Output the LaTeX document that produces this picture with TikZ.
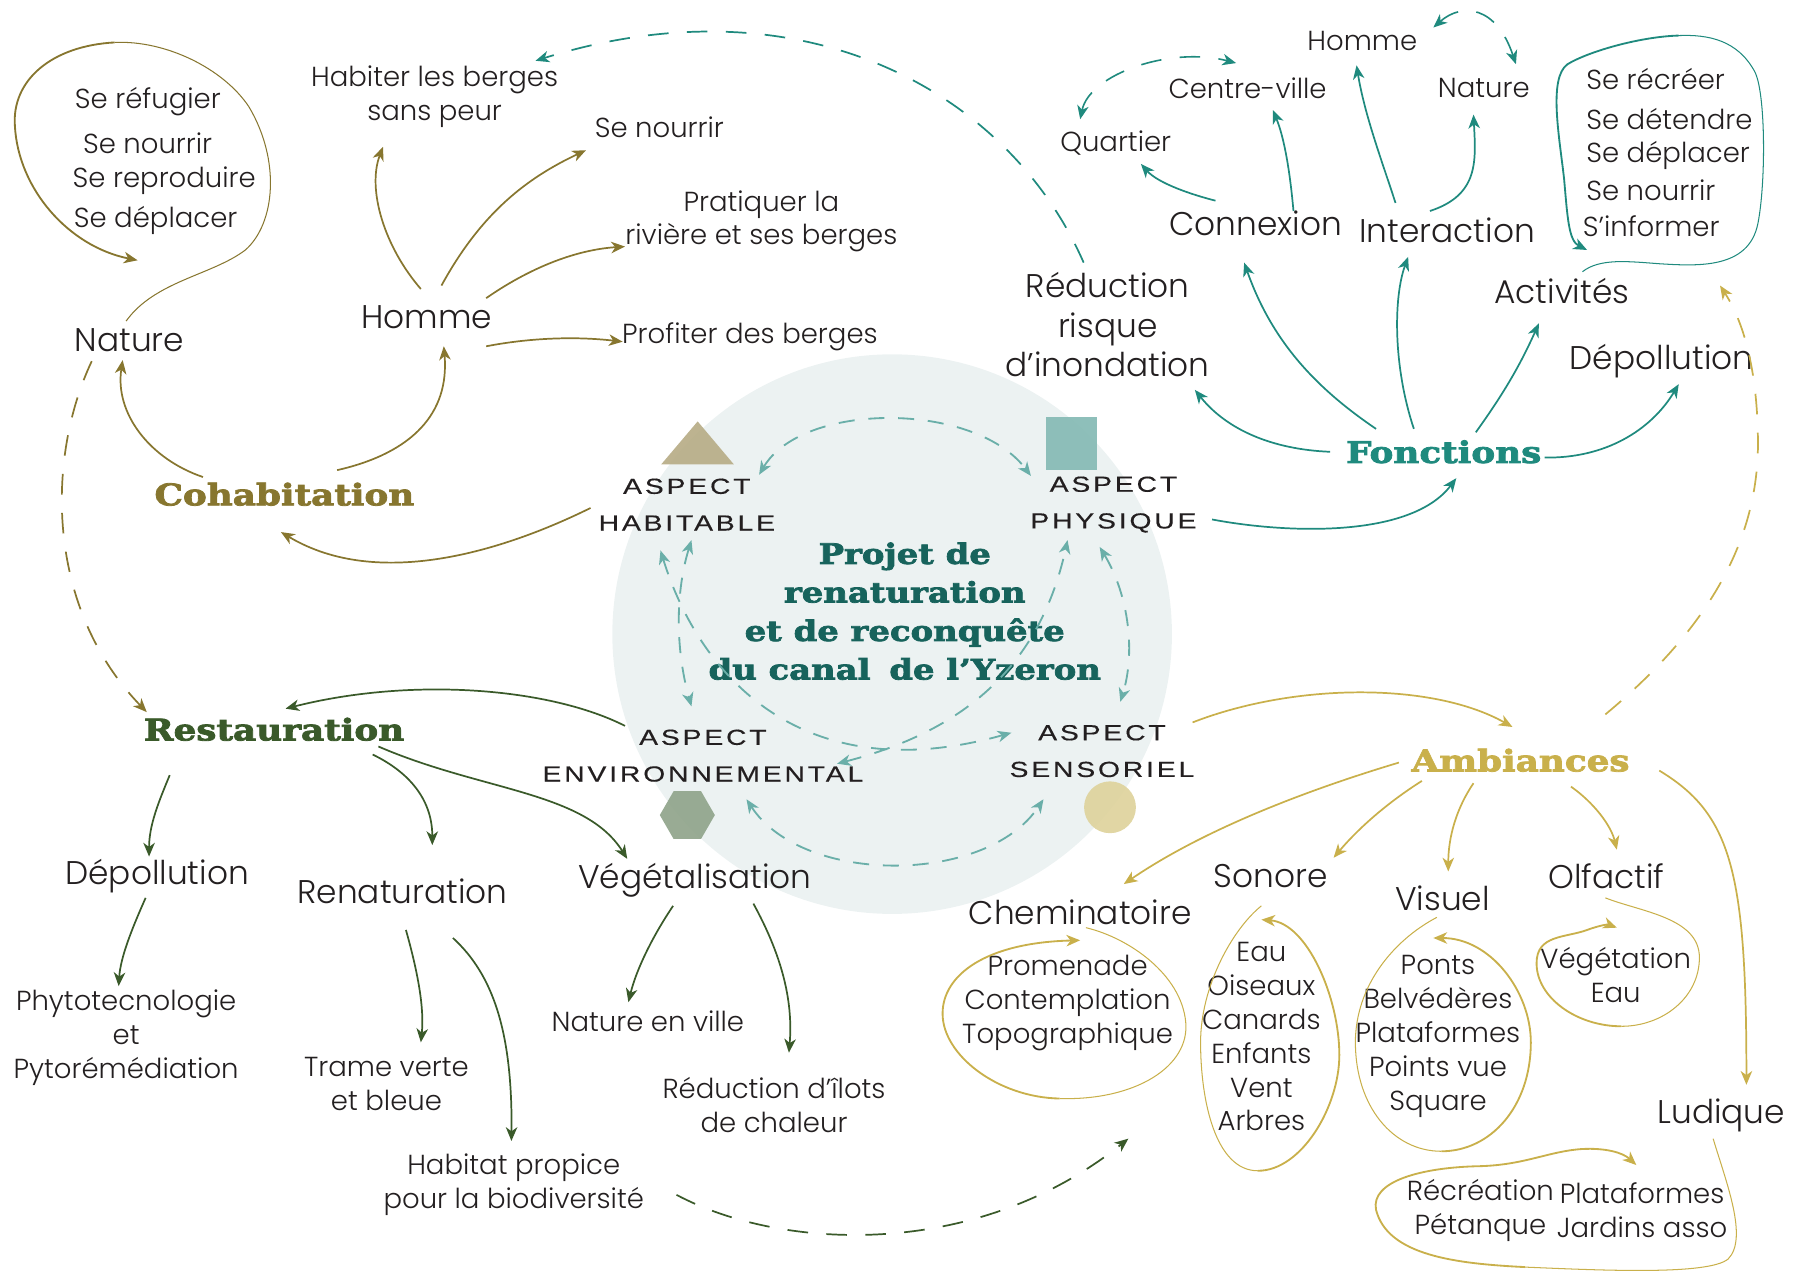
\documentclass[tikz,border=0pt]{standalone}
\usepackage{fontspec}
\usetikzlibrary{arrows.meta,calc}
\IfFontExistsTF{Poppins Light}{\setmainfont{Poppins Light}}{\setmainfont{Poppins}}
\newfontfamily\slabfont{DejaVu Serif}[FakeStretch=1.2, BoldFeatures={FakeBold=2.6}]
\newfontfamily\widefont{Liberation Sans}[FakeStretch=1.3,LetterSpace=13,FakeBold=0.4]
\definecolor{olv}{HTML}{87762F}
\definecolor{tl}{HTML}{1F8A7E}
\definecolor{dtl}{HTML}{17635C}
\definecolor{grn}{HTML}{3A5A2A}
\definecolor{gld}{HTML}{C9B04B}
\definecolor{ltl}{HTML}{6AAFA9}
\definecolor{txt}{HTML}{231F20}
\definecolor{circ}{HTML}{ECF2F2}
\definecolor{tri}{HTML}{B9AF8A}
\definecolor{sqr}{HTML}{88BCB6}
\definecolor{hexc}{HTML}{93A78E}
\definecolor{dotc}{HTML}{DFD49F}
\begin{document}
\begin{tikzpicture}[x=0.5pt,y=-0.5pt,
  sm/.style={font=\fontsize{12}{14.8}\selectfont, text=txt, inner sep=1pt, align=center},
  bg/.style={font=\fontsize{14.3}{17.25}\selectfont, text=txt, inner sep=1pt, align=center},
  hd/.style={font=\slabfont\bfseries\fontsize{13}{16}\selectfont, inner sep=1pt},
  asp/.style={font=\widefont\fontsize{9.5}{16}\selectfont, text=txt, inner sep=1pt, align=center},
  arr/.style={-{Stealth[length=6pt,width=5pt,inset=1.8pt]}, line width=0.75pt},
  darr/.style={{Stealth[length=6pt,width=5pt,inset=1.8pt]}-{Stealth[length=6pt,width=5pt,inset=1.8pt]}, line width=0.7pt},
  thin/.style={line width=0.45pt},
  bigdash/.style={dash pattern=on 9pt off 8pt},
  indash/.style={ltl, line width=0.8pt, dash pattern=on 7pt off 6pt},
]
\useasboundingbox (0,0) rectangle (1568,1108);

% ---------- centre ----------
\fill[circ] (778,553) circle [radius=244];
\fill[tri, opacity=0.95] (576.6,405) -- (640,405) -- (608.4,367.5) -- cycle;
\fill[sqr, opacity=0.95] (912,364) rectangle (957,410);
\fill[hexc, opacity=0.95] (599.4,710.8) ++(0:24) -- ++(120:24) -- ++(180:24) -- ++(240:24) -- ++(300:24) -- ++(0:24) -- cycle;
\fill[dotc, opacity=0.95] (968,704) circle [radius=22.6];

\node[font=\slabfont\bfseries\fontsize{12.3}{16.8}\selectfont, text=dtl, align=center, inner sep=1pt] (titre) at (789,533)
  {Projet de\\renaturation\\et de reconquête\\du canal\hspace{0.25em} de l’Yzeron};
\node[asp] (habit) at (599,440) {ASPECT\\HABITABLE};
\node[asp] (phys) at (971,440) {ASPECT\\PHYSIQUE};
\node[asp] (env) at (613,659) {ASPECT\\ENVIRONNEMENTAL};
\node[asp] (sens) at (961,655) {ASPECT\\SENSORIEL};

\draw[indash, darr, line width=0.8pt] ($(habit)+(63,-26)$) .. controls (700,350) and (850,350) .. ($(phys)+(-72,-25)$);
\draw[indash, darr, line width=0.8pt] ($(habit)+(4,31)$) .. controls (588,520) and (590,570) .. ($(env)+(-10,-43)$);
\draw[indash, darr, line width=0.8pt] ($(habit)+(-23,40)$) .. controls (610,590) and (700,690) .. ($(sens)+(-79,-16)$);
\draw[indash, darr, line width=0.8pt] ($(env)+(117,7)$) .. controls (830,640) and (905,590) .. ($(phys)+(-40,31)$);
\draw[indash, darr, line width=0.8pt] ($(phys)+(-12,37)$) .. controls (985,520) and (990,570) .. ($(sens)+(16,-43)$);
\draw[indash, darr, line width=0.8pt] ($(env)+(38,38)$) .. controls (700,772) and (860,772) .. ($(sens)+(-51,42)$);

% ---------- Cohabitation (olive) ----------
\node[hd, text=olv] (cohab) at (248,431) {Cohabitation};
\node[bg] (nature) at (113,297) {Nature};
\node[bg] (homme) at (372,277) {Homme};
\node[sm, anchor=west] (nat1) at (63,89) {Se réfugier};
\node[sm, anchor=west] (nat2) at (70,125) {Se nourrir};
\node[sm, anchor=west] (nat3) at (61,158) {Se reproduire};
\node[sm, anchor=west] (nat4) at (62,192) {Se déplacer};
\node[sm] (habiter) at (379,84) {Habiter les berges\\sans peur};
\node[sm] (senourrir) at (575,111) {Se nourrir};
\node[sm] (pratiquer) at (664,193) {Pratiquer la\\rivière et ses berges};
\node[sm] (profiter) at (654,294) {Profiter des berges};

\draw[olv, thin] ($(nature)+(-3,-17)$) .. controls (135,245) and (185,240) .. (214,218)
   .. controls (240,195) and (245,140) .. (217,93) .. controls (195,60) and (145,35) .. (100,37);
\draw[olv, arr, line width=0.8pt] (100,37) .. controls (45,40) and (10,70) .. (13,110) .. controls (16,165) and (60,215) .. ($(nat4.west)+(58,35)$);
\draw[olv, arr] ($(cohab)+(-71,-15)$) .. controls (130,400) and (100,360) .. ($(nature)+(-6,17)$);
\draw[olv, arr] ($(cohab)+(46,-21)$) .. controls (360,395) and (392,360) .. ($(homme)+(15,25)$);
\draw[olv, arr] ($(homme)+(-5,-25)$) .. controls (335,215) and (320,165) .. ($(habiter)+(-45,44)$);
\draw[olv, arr] ($(homme)+(13,-28)$) .. controls (420,185) and (460,155) .. ($(senourrir)+(-64,20)$);
\draw[olv, arr] ($(homme)+(52,-17)$) .. controls (460,235) and (500,218) .. ($(pratiquer)+(-119,22)$);
\draw[olv, arr] ($(homme)+(52,25)$) .. controls (460,295) and (500,293) .. ($(profiter)+(-111,4)$);
\draw[olv, arr] ($(habit)+(-84,3)$) .. controls (440,480) and (330,515) .. ($(cohab)+(-3,33)$);

% ---------- Fonctions (teal) ----------
\node[hd, text=tl] (fonctions) at (1259,394) {Fonctions};
\node[sm] (quartier) at (973,125) {Quartier};
\node[sm] (centre) at (1088,77) {Centre-ville};
\node[sm] (hommeT) at (1188,36) {Homme};
\node[sm] (natureT) at (1294,77) {Nature};
\node[bg] (connexion) at (1095,195) {Connexion};
\node[bg] (interaction) at (1262,201) {Interaction};
\node[bg] (reduction) at (966,283) {Réduction\\risque\\d’inondation};
\node[bg] (activites) at (1362,254) {Activités};
\node[bg] (depolT) at (1449,315) {Dépollution};
\node[sm, anchor=west] (act1) at (1381,69) {Se récréer};
\node[sm, anchor=west] (act2) at (1381,104) {Se détendre};
\node[sm, anchor=west] (act3) at (1381,136) {Se déplacer};
\node[sm, anchor=west] (act4) at (1381,166) {Se nourrir};
\node[sm, anchor=west] (act5) at (1378,197) {S’informer};

\draw[tl, arr, bigdash] ($(reduction)+(-21,-54)$) .. controls (880,80) and (700,-20) .. ($(habiter)+(88,-31)$);
\draw[tl, darr, bigdash] ($(quartier)+(-31,-21)$) .. controls (950,65) and (1020,40) .. ($(centre)+(-10,-22)$);
\draw[tl, darr, bigdash] ($(hommeT)+(62,-12)$) .. controls (1275,2) and (1305,5) .. ($(natureT)+(28,-21)$);
\draw[tl, arr] ($(connexion)+(-35,-20)$) .. controls (1040,170) and (1010,160) .. ($(quartier)+(22,18)$);
\draw[tl, arr] ($(connexion)+(33,-11)$) .. controls (1125,150) and (1120,120) .. ($(centre)+(22,19)$);
\draw[tl, arr] ($(interaction)+(-45,-24)$) .. controls (1205,140) and (1190,100) .. ($(hommeT)+(-5,21)$);
\draw[tl, arr] ($(interaction)+(-15,-17)$) .. controls (1290,170) and (1287,140) .. ($(natureT)+(-9,23)$);
\draw[tl, arr] ($(fonctions)+(-99,0)$) .. controls (1110,392) and (1070,375) .. ($(reduction)+(76,57)$);
\draw[tl, arr] ($(fonctions)+(-59,-20)$) .. controls (1150,340) and (1110,300) .. ($(connexion)+(-10,34)$);
\draw[tl, arr] ($(fonctions)+(-26,-20)$) .. controls (1215,320) and (1215,260) .. ($(interaction)+(-34,23)$);
\draw[tl, arr] ($(fonctions)+(28,-17)$) .. controls (1310,345) and (1325,320) .. ($(activites)+(-20,28)$);
\draw[tl, arr] ($(fonctions)+(88,5)$) .. controls (1400,400) and (1440,375) .. ($(depolT)+(15,20)$);
\draw[tl, arr] ($(phys)+(86,13)$) .. controls (1120,465) and (1230,470) .. ($(fonctions)+(11,23)$);
\draw[tl, thin] ($(activites)+(18,-17)$) .. controls (1395,225) and (1420,228) .. (1447,230)
   .. controls (1480,232) and (1525,235) .. (1533,195) .. controls (1540,160) and (1540,80) .. (1530,62)
   .. controls (1515,35) and (1490,30) .. (1464,31);
\draw[tl, arr, line width=0.8pt] (1464,31) .. controls (1430,32) and (1385,45) .. (1367,56)
   .. controls (1350,68) and (1360,120) .. (1364,156) .. controls (1367,190) and (1368,210) .. ($(activites)+(22,-36)$);

% ---------- Restauration (green) ----------
\node[hd, text=grn] (restau) at (239,636) {Restauration};
\node[bg] (depolG) at (137,764) {Dépollution};
\node[bg] (renat) at (351,777) {Renaturation};
\node[bg] (veget) at (606,768) {Végétalisation};
\node[sm] (phyto) at (110,905) {Phytotecnologie\\et\\Pytorémédiation};
\node[sm] (trame) at (337,945) {Trame verte\\et bleue};
\node[sm] (habitat) at (448,1033) {Habitat propice\\pour la biodiversité};
\node[sm] (natville) at (565,891) {Nature en ville};
\node[sm] (ilots) at (675,964) {Réduction d’îlots\\de chaleur};

\draw[olv, arr, bigdash] ($(nature)+(-33,18)$) .. controls (40,400) and (40,530) .. ($(restau)+(-111,-15)$);
\draw[grn, arr] ($(env)+(-68,-26)$) .. controls (480,600) and (360,590) .. ($(restau)+(10,-18)$);
\draw[grn, arr] ($(restau)+(-91,40)$) .. controls (138,700) and (130,720) .. ($(depolG)+(-7,-17)$);
\draw[grn, arr] ($(restau)+(86,22)$) .. controls (360,675) and (377,700) .. ($(renat)+(26,-40)$);
\draw[grn, arr] ($(restau)+(91,15)$) .. controls (420,690) and (510,690) .. ($(veget)+(-59,-19)$);
\draw[grn, arr] ($(depolG)+(-10,19)$) .. controls (115,810) and (105,835) .. ($(phyto)+(-6.5,-45)$);
\draw[grn, arr] ($(renat)+(3,34)$) .. controls (365,850) and (370,880) .. ($(trame)+(30,-36)$);
\draw[grn, arr] ($(renat)+(44,41)$) .. controls (430,850) and (447,900) .. ($(habitat)+(-2,-38)$);
\draw[grn, arr] ($(veget)+(-19,22)$) .. controls (570,815) and (555,845) .. ($(natville)+(-17,-17)$);
\draw[grn, arr] ($(veget)+(51,20)$) .. controls (680,830) and (692,870) .. ($(ilots)+(13,-46)$);

% ---------- Ambiances (gold) ----------
\node[hd, text=gld] (amb) at (1326,663) {Ambiances};
\node[bg] (chemin) at (942,796) {Cheminatoire};
\node[bg] (sonore) at (1108,764) {Sonore};
\node[bg] (visuel) at (1258,783) {Visuel};
\node[bg] (olfactif) at (1401,764) {Olfactif};
\node[bg] (ludique) at (1501,973) {Ludique};
\node[sm] (cheml) at (931,875) {Promenade\\Contemplation\\Topographique};
\node[sm] (sonl) at (1100,904) {Eau\\Oiseaux\\Canards\\Enfants\\Vent\\Arbres};
\node[sm] (visl) at (1254,904) {Ponts\\Belvédères\\Plataformes\\Points vue\\Square};
\node[sm] (olfl) at (1409,850) {Végétation\\Eau};
\node[sm] (ludl) at (1291,1056) {Récréation\\Pétanque};
\node[sm] (ludr) at (1432,1055) {Plataformes\\Jardins asso};

\draw[grn, arr, bigdash] ($(habitat)+(142,9)$) .. controls (680,1090) and (850,1100) .. ($(cheml)+(53,118)$);
\draw[gld, arr, bigdash] ($(amb)+(74,-40)$) .. controls (1500,540) and (1535,460) .. (1533,380) .. controls (1532,320) and (1520,280) .. ($(activites)+(138,-5)$);
\draw[gld, arr] ($(sens)+(79,-25)$) .. controls (1130,595) and (1250,595) .. ($(amb)+(-7,-29)$);
\draw[gld, arr] ($(amb)+(-106,2)$) .. controls (1120,695) and (1040,730) .. ($(chemin)+(38,-25)$);
\draw[gld, arr] ($(amb)+(-86,18)$) .. controls (1210,700) and (1185,722) .. ($(sonore)+(55,-16)$);
\draw[gld, arr] ($(amb)+(-41,20)$) .. controls (1270,705) and (1263,730) .. ($(visuel)+(5,-23)$);
\draw[gld, arr] ($(amb)+(44,23)$) .. controls (1390,700) and (1405,720) .. ($(olfactif)+(9,-23)$);
\draw[gld, arr] ($(amb)+(121,9)$) .. controls (1510,710) and (1523,760) .. ($(ludique)+(22,-27)$);

\draw[gld, thin] ($(chemin)+(5,13)$) .. controls (985,818) and (1030,850) .. (1034,891) .. controls (1038,930) and (990,960) .. (924,958);
\draw[gld, arr, line width=0.8pt] (924,958) .. controls (870,957) and (822,920) .. (822,884) .. controls (822,850) and (860,822) .. ($(chemin)+(0,24)$);
\draw[gld, thin] ($(sonore)+(-8,26)$) .. controls (1075,810) and (1047,860) .. (1047,909) .. controls (1047,960) and (1060,1021) .. (1097,1021);
\draw[gld, arr, line width=0.8pt] (1097,1021) .. controls (1135,1021) and (1168,965) .. (1168,920) .. controls (1168,870) and (1140,805) .. ($(sonore)+(-8,38)$);
\draw[gld, thin] ($(visuel)+(-5,17)$) .. controls (1215,820) and (1182,860) .. (1182,909) .. controls (1182,965) and (1215,1004) .. (1257,1004);
\draw[gld, arr, line width=0.8pt] (1257,1004) .. controls (1300,1004) and (1335,965) .. (1335,909) .. controls (1335,865) and (1300,818) .. ($(visuel)+(-8,35)$);
\draw[gld, thin] ($(olfactif)+(-1,19)$) .. controls (1430,795) and (1482,800) .. (1482,835) .. controls (1482,870) and (1450,895) .. (1414,895);
\draw[gld, arr, line width=0.8pt] (1414,895) .. controls (1375,895) and (1340,870) .. (1340,840) .. controls (1340,815) and (1365,818) .. (1384,811) .. controls (1395,807) and (1402,806) .. ($(olfactif)+(9,45)$);
\draw[gld, thin] ($(ludique)+(-7,20)$) .. controls (1505,1030) and (1525,1080) .. (1507,1098) .. controls (1490,1112) and (1400,1108) .. (1330,1105);
\draw[gld, arr, line width=0.8pt] (1330,1105) .. controls (1270,1102) and (1210,1095) .. (1200,1055) .. controls (1195,1030) and (1240,1018) .. (1290,1017) .. controls (1330,1016) and (1350,1004) .. (1380,1002) .. controls (1400,1001) and (1415,1005) .. ($(ludique)+(-74,43)$);

\end{tikzpicture}
\end{document}
